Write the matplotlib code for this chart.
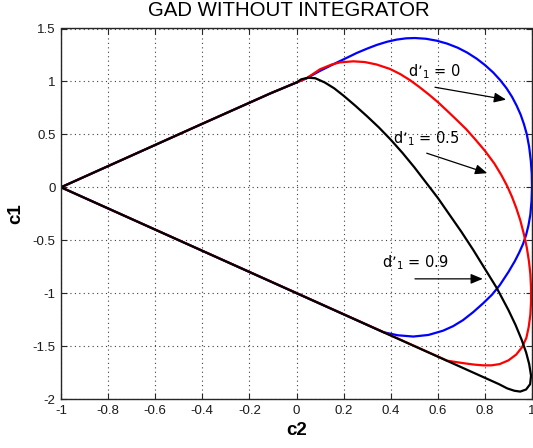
import matplotlib
matplotlib.use("Agg")
import matplotlib.pyplot as plt

# ---- data ----
title = "GAD WITHOUT INTEGRATOR"
xlabel = "c2"
ylabel = "c1"
xticks = [-1, -0.8, -0.6, -0.4, -0.2, 0, 0.2, 0.4, 0.6, 0.8, 1]
xticklabels = ["-1", "-0.8", "-0.6", "-0.4", "-0.2", "0", "0.2", "0.4", "0.6", "0.8", "1"]
yticks = [-2, -1.5, -1, -0.5, 0, 0.5, 1, 1.5]
yticklabels = ["-2", "-1.5", "-1", "-0.5", "0", "0.5", "1", "1.5"]

# shared upper edge starting at the vertex (-1, 0)
upper_x = [-1.0, -0.41, -0.11]
upper_y = [0.0, 0.59, 0.888]

# d'1 = 0 (blue)
blue_x = upper_x + [0.043, 0.100, 0.171, 0.220, 0.256, 0.300, 0.341, 0.385, 0.425, 0.465,
                    0.503, 0.550, 0.595, 0.640, 0.685, 0.725, 0.765, 0.800, 0.835, 0.865,
                    0.892, 0.915, 0.935, 0.952, 0.966, 0.978, 0.988, 0.995, 0.999, 1.000,
                    0.998, 0.993, 0.985, 0.975, 0.962, 0.946, 0.927, 0.900, 0.863, 0.830,
                    0.793, 0.750, 0.707, 0.665, 0.622, 0.560, 0.496, 0.430, 0.369, -1.0]
blue_y = upper_y + [1.030, 1.100, 1.178, 1.230, 1.269, 1.310, 1.345, 1.375, 1.395, 1.407,
                    1.410, 1.403, 1.385, 1.357, 1.318, 1.272, 1.215, 1.155, 1.085, 1.012,
                    0.935, 0.855, 0.770, 0.685, 0.595, 0.500, 0.380, 0.250, 0.125, 0.000,
                    -0.130, -0.258, -0.360, -0.450, -0.535, -0.615, -0.698, -0.800, -0.925, -1.015,
                    -1.095, -1.180, -1.255, -1.312, -1.355, -1.395, -1.410, -1.398, -1.369, 0.0]

# d'1 = 0.5 (red)
red_x = upper_x + [0.043, 0.100, 0.150, 0.185, 0.241, 0.290, 0.340, 0.397, 0.440, 0.482,
                   0.520, 0.560, 0.600, 0.640, 0.680, 0.721, 0.760, 0.800, 0.840, 0.870,
                   0.895, 0.915, 0.933, 0.950, 0.966, 0.978, 0.987, 0.993, 0.996, 0.996,
                   0.993, 0.986, 0.976, 0.958, 0.933, 0.900, 0.863, 0.828, 0.792, 0.755,
                   0.720, 0.680, 0.640, -1.0]
red_y = upper_y + [1.030, 1.115, 1.160, 1.180, 1.190, 1.183, 1.160, 1.118, 1.070, 1.012,
                   0.950, 0.880, 0.805, 0.722, 0.637, 0.548, 0.450, 0.345, 0.225, 0.115,
                   0.010, -0.090, -0.195, -0.310, -0.447, -0.570, -0.698, -0.820, -0.950, -1.080,
                   -1.203, -1.320, -1.423, -1.510, -1.580, -1.635, -1.670, -1.682, -1.682, -1.675,
                   -1.665, -1.652, -1.638, 0.0]

# d'1 = 0.9 (black)
black_x = upper_x + [0.000, 0.020, 0.050, 0.080, 0.120, 0.160, 0.200, 0.250, 0.300, 0.350,
                     0.400, 0.450, 0.500, 0.550, 0.600, 0.650, 0.700, 0.750, 0.800, 0.850,
                     0.900, 0.930, 0.956, 0.975, 0.988, 0.996, 0.992, 0.975, 0.950, 0.925,
                     0.895, 0.860, -1.0]
black_y = upper_y + [0.990, 1.020, 1.035, 1.030, 0.990, 0.935, 0.865, 0.770, 0.670, 0.565,
                     0.450, 0.325, 0.190, 0.045, -0.100, -0.260, -0.420, -0.590, -0.770, -0.950,
                     -1.160, -1.300, -1.440, -1.560, -1.670, -1.780, -1.860, -1.910, -1.930, -1.922,
                     -1.900, -1.860, 0.0]

labels = ["d\u2019$_1$ = 0", "d\u2019$_1$ = 0.5", "d\u2019$_1$ = 0.9"]
label_xy = [(0.475, 1.049), (0.410, 0.416), (0.362, -0.755)]
arrow_tail = [(0.588, 0.945), (0.553, 0.322), (0.503, -0.865)]
arrow_head = [(0.890, 0.828), (0.810, 0.133), (0.791, -0.865)]

# ---- figure ----
plt.rcParams['font.family'] = ['Liberation Sans', 'DejaVu Sans']
fig = plt.figure(figsize=(5.33, 4.48), dpi=100)
ax = fig.add_axes([61/533, 49/448, 471/533, 370.5/448])

ax.plot(blue_x, blue_y, color='#0000ff', lw=1.6, solid_joinstyle='round')
ax.plot(red_x, red_y, color='#ff0000', lw=1.6, solid_joinstyle='round')
ax.plot(black_x, black_y, color='black', lw=1.6, solid_joinstyle='round')

for txt, (tx, ty), tail, head in zip(labels, label_xy, arrow_tail, arrow_head):
    ax.text(tx, ty, txt, fontsize=10.5, family=['DejaVu Sans'], ha='left', va='baseline')
    ax.annotate("", xy=head, xytext=tail,
                arrowprops=dict(arrowstyle='-|>,head_length=0.6,head_width=0.25',
                                color='black', lw=0.9,
                                mutation_scale=12, shrinkA=0, shrinkB=0))

ax.set_xlim(-1, 1)
ax.set_ylim(-2, 1.5)
ax.set_xticks(xticks)
ax.set_xticklabels(xticklabels)
ax.set_yticks(yticks)
ax.set_yticklabels(yticklabels)
ax.tick_params(direction='in', length=4, width=0.8, top=True, right=True,
               labelsize=9.5, pad=4, colors='0.15', labelcolor='0.1')
ax.grid(True, linestyle=(0, (1, 3)), color='0.25', lw=0.8)
for s in ax.spines.values():
    s.set_linewidth(1.0)
    s.set_color('0.15')

ax.set_title(title, fontsize=14.7, pad=8.8, x=0.484)
ax.set_xlabel(xlabel, fontsize=13.5, fontweight='bold', labelpad=4)
ax.set_ylabel(ylabel, fontsize=13.5, fontweight='bold', labelpad=6)

fig.savefig("out.png", dpi=100)
